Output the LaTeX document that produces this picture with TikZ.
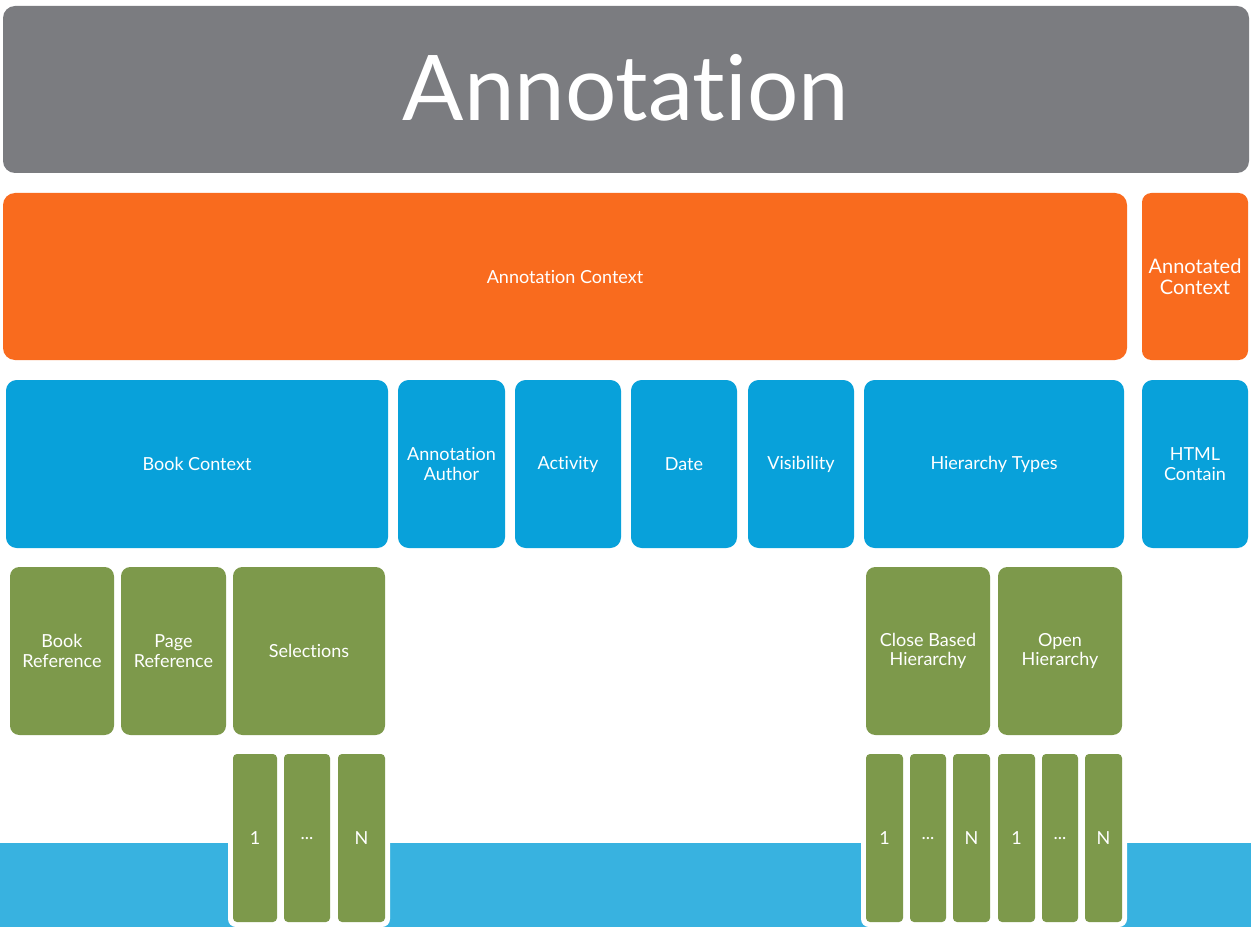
\documentclass[tikz,border=0pt]{standalone}
\usepackage{fontspec}
\setmainfont[Ligatures={NoCommon}]{Lato}
\definecolor{cgray}{HTML}{7B7C80}
\definecolor{corange}{HTML}{F96B1E}
\definecolor{cblue}{HTML}{08A1DA}
\definecolor{cgreen}{HTML}{7D994B}
\definecolor{cband}{HTML}{38B2E0}
\begin{document}
\begin{tikzpicture}[x=0.75pt,y=-0.75pt,
  blk/.style={text=white,align=center,font=\fontsize{13.5}{14.5}\selectfont}]
\useasboundingbox (0,0) rectangle (1251,927);
\fill[white] (0,0) rectangle (1251,927);
% band
\fill[cband] (0,843) rectangle (1251,927);
\fill[white,rounded corners=6pt] (228,800) -- (228,927) -- (390,927) -- (390,800) -- cycle;
\fill[white] (228,800) rectangle (390,900);
\fill[white,rounded corners=6pt] (861,800) -- (861,927) -- (1127,927) -- (1127,800) -- cycle;
\fill[white] (861,800) rectangle (1127,900);
% top
\fill[cgray,rounded corners=9pt] (3,6) rectangle (1249,173);
\node[text=white,font=\fontsize{68}{68}\selectfont] (ann) at (626,88) {Annotation};
% orange
\fill[corange,rounded corners=9pt] (3,193) rectangle (1127,360);
\node[blk] (actx) at (565,277) {Annotation Context};
\fill[corange,rounded corners=7pt] (1142,193) rectangle (1248,360);
\node[blk,font=\fontsize{15}{16}\selectfont] (adctx) at (1195,277) {Annotated\\Context};
% blue row
\foreach \a/\b/\t/\n in {6/388/Book Context/bc,398/505/Annotation\\Author/aa,515/621/Activity/act,631/737/Date/dt,748/854/Visibility/vis,864/1124/Hierarchy Types/ht,1142/1248/HTML\\Contain/html}{
  \fill[cblue,rounded corners=8pt] (\a,380) rectangle (\b,548);
  \node[blk] (\n) at ({(\a+\b)/2},464) {\t};
}
% green row
\foreach \a/\b/\t/\n in {10/114/Book\\Reference/br,121/226/Page\\Reference/pr,233/385/Selections/sel,866/990/Close Based\\Hierarchy/cbh,998/1122/Open\\Hierarchy/oh}{
  \fill[cgreen,rounded corners=7pt] (\a,567) rectangle (\b,735);
  \node[blk] (\n) at ({(\a+\b)/2},651) {\t};
}
% small
\foreach \a/\b/\t/\n in {233/277/1/s1,284/330/{...}/s2,338/385/N/s3,866/903/1/c1,910/946/{...}/c2,953/990/N/c3,998/1035/1/o1,1042/1078/{...}/o2,1085/1122/N/o3}{
  \fill[cgreen,rounded corners=3pt] (\a,754) rectangle (\b,922);
  \node[blk] (\n) at ({(\a+\b)/2},838) {\t};
}
\end{tikzpicture}
\end{document}
